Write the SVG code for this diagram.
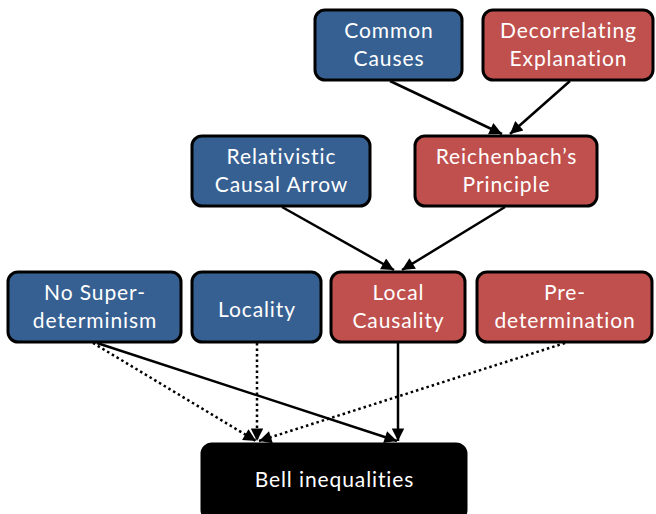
<svg xmlns="http://www.w3.org/2000/svg" width="656" height="514" viewBox="0 0 656 514">
<style>
.b{fill:#376092;stroke:#000;stroke-width:3}
.r{fill:#C0504D;stroke:#000;stroke-width:3}
.k{fill:#000;stroke:#000;stroke-width:3}
text{font-family:Lato,"Open Sans","Liberation Sans",sans-serif;font-size:21px;letter-spacing:0.9px;fill:#fff;text-anchor:middle}
.c line{stroke:#000;stroke-width:2.5}
.c .d{stroke-dasharray:2.5 3}
</style>
<defs>
<marker id="a" viewBox="0 0 10 10" refX="10" refY="5" markerWidth="5.5" markerHeight="5" orient="auto" markerUnits="strokeWidth">
<path d="M0,0L10,5L0,10z" fill="#000"/>
</marker>
</defs>
<g id="common-causes"><rect class="b" x="315" y="10" width="147" height="70" rx="10"/><text x="389" y="38">Common</text><text x="389" y="66">Causes</text></g>
<g id="decorrelating"><rect class="r" x="483" y="10" width="170" height="70" rx="10"/><text x="568.5" y="38">Decorrelating</text><text x="568.5" y="66">Explanation</text></g>
<g id="relativistic"><rect class="b" x="192" y="136" width="178" height="70" rx="10"/><text x="281.5" y="164">Relativistic</text><text x="281.5" y="192">Causal Arrow</text></g>
<g id="reichenbach"><rect class="r" x="415" y="136" width="182" height="70" rx="10"/><text x="506.5" y="164">Reichenbach’s</text><text x="506.5" y="192">Principle</text></g>
<g id="no-superdeterminism"><rect class="b" x="8" y="272" width="173" height="70" rx="10"/><text x="95" y="300">No Super-</text><text x="95" y="328">determinism</text></g>
<g id="locality"><rect class="b" x="192" y="272" width="129" height="70" rx="10"/><text x="257" y="317">Locality</text></g>
<g id="local-causality"><rect class="r" x="331" y="272" width="134" height="70" rx="10"/><text x="398.5" y="300">Local</text><text x="398.5" y="328">Causality</text></g>
<g id="predetermination"><rect class="r" x="477" y="272" width="175" height="70" rx="10"/><text x="565" y="300">Pre-</text><text x="565" y="328">determination</text></g>
<g id="bell"><rect class="k" x="202" y="444" width="264" height="76" rx="10"/><text x="334.5" y="487">Bell inequalities</text></g>
<g class="c" id="connectors">
<line x1="390" y1="81" x2="502" y2="134" marker-end="url(#a)"/>
<line x1="570" y1="81" x2="510" y2="134" marker-end="url(#a)"/>
<line x1="282" y1="207" x2="394" y2="270" marker-end="url(#a)"/>
<line x1="505" y1="207" x2="402" y2="270" marker-end="url(#a)"/>
<line x1="398" y1="343" x2="398" y2="441" marker-end="url(#a)"/>
<line x1="97" y1="343" x2="397" y2="441" marker-end="url(#a)"/>
<line class="d" x1="93" y1="343" x2="256" y2="441" marker-end="url(#a)"/>
<line class="d" x1="257" y1="343" x2="257" y2="441" marker-end="url(#a)"/>
<line class="d" x1="565" y1="343" x2="259" y2="441" marker-end="url(#a)"/>
</g>
</svg>
